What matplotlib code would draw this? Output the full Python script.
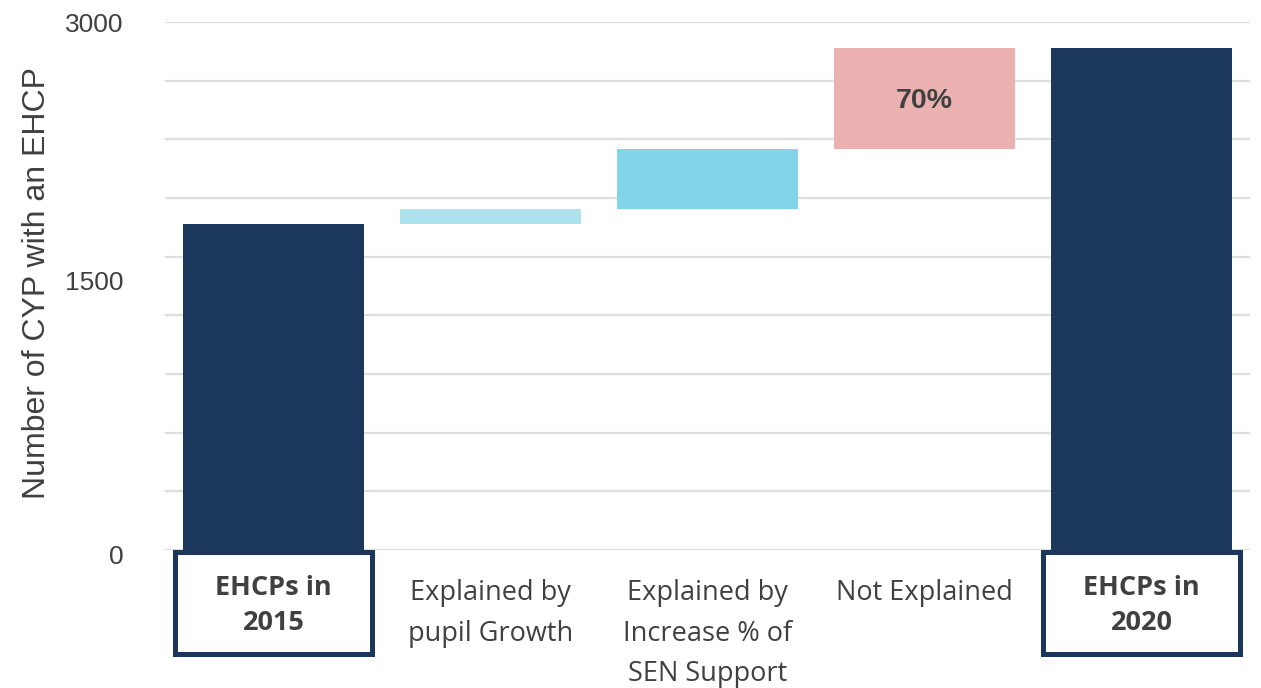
import matplotlib

matplotlib.use("Agg")
import matplotlib.pyplot as plt
import matplotlib.transforms as mtransforms
import numpy as np
from matplotlib.patches import Rectangle

# waterfall data
categories = ["EHCPs in\n2015", "Explained by\npupil Growth",
              "Explained by\nIncrease % of\nSEN Support", "Not Explained",
              "EHCPs in\n2020"]
start_total = 1850
steps = [85, 345, 570]
end_total = 2850
step_label = "70%"
bar_colors = ["#1b375c", "#abe2ed", "#82d5e8", "#ebb0b0", "#1b375c"]
boxed = [True, False, False, False, True]

y_ticks = [0, 1500, 3000]
# the reference gridlines split the axis into 9 equal bands
y_grid = np.linspace(0, 3000, 10)

fig = plt.figure(figsize=(12.61, 6.88), dpi=100)
ax = fig.add_axes([165 / 1261, 138 / 688, 1085 / 1261, 528 / 688])

# build bottoms / heights for the floating bars
bottoms = [0]
heights = [start_total]
running = start_total
for s in steps:
    bottoms.append(running)
    heights.append(s)
    running += s
bottoms.append(0)
heights.append(end_total)

x = list(range(len(categories)))
ax.bar(x, heights, bottom=bottoms, width=0.83, color=bar_colors, zorder=3)

# percentage label inside the "Not Explained" bar
ax.text(3, bottoms[3] + heights[3] / 2 - 15, step_label, ha="center", va="center",
        fontsize=20.5, fontweight="bold", color="#404040",
        family="Liberation Sans", zorder=4)

ax.set_xlim(-0.5, 4.5)
ax.set_ylim(0, 3000)
for g in y_grid:
    ax.axhline(g, color="#dedede", lw=1.6, zorder=1)
for sp in ax.spines.values():
    sp.set_visible(False)

ax.set_yticks(y_ticks)
ax.set_yticklabels([str(t) for t in y_ticks], fontsize=19,
                   family="Liberation Sans", color="#404040")
ax.tick_params(axis="y", length=0, pad=30)
nudges = [-4, 5, 0]
for lab, dy in zip(ax.get_yticklabels(), nudges):
    lab.set_transform(lab.get_transform() +
                      mtransforms.ScaledTranslation(0, dy / 100, fig.dpi_scale_trans))

ax.set_xticks(x)
ax.set_xticklabels([])
ax.tick_params(axis="x", length=0)
trans = mtransforms.blended_transform_factory(ax.transData, fig.transFigure)
for xi, lab, b in zip(x, categories, boxed):
    if b:
        ax.text(xi, 1 - 575 / 688, lab, transform=trans, ha="center", va="top",
                fontsize=19.5, fontweight="bold", color="#404040",
                family="Open Sans", linespacing=1.43)
        rect = Rectangle((xi - 0.455, 1 - 654 / 688), 0.91, 102 / 688,
                         transform=trans, fill=False, edgecolor="#1b375c",
                         lw=3.6, clip_on=False)
        ax.add_patch(rect)
    else:
        ax.text(xi, 1 - 579 / 688, lab, transform=trans, ha="center", va="top",
                fontsize=19.5, color="#404040", family="Open Sans",
                linespacing=1.6)

fig.text(37 / 1261, 1 - 283 / 688, "Number of CYP with an EHCP", rotation=90,
         ha="center", va="center", fontsize=23, color="#404040",
         family="Liberation Sans")

fig.savefig("out.png", dpi=100)
plt.close(fig)
